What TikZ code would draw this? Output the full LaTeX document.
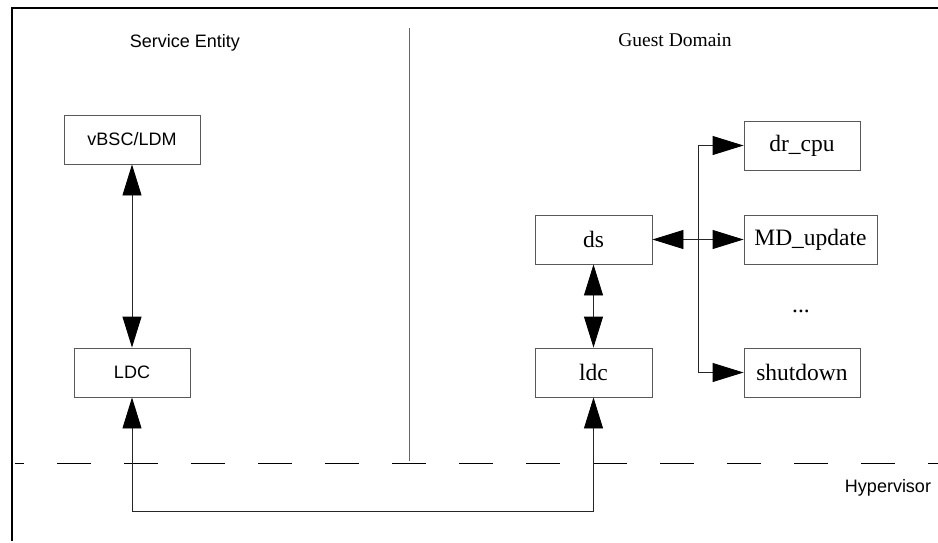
\documentclass[tikz,border=0pt]{standalone}
\usepackage{fontspec}
\setmainfont{Liberation Serif}
\setsansfont{Liberation Sans}
\usetikzlibrary{arrows.meta}
\begin{document}
\begin{tikzpicture}[x=1pt,y=-1pt,
  box/.style={draw=black!65,line width=0.9pt,inner sep=0pt,minimum height=49pt,font=\fontsize{23.5}{26}\selectfont},
  sbox/.style={box,font=\sffamily\fontsize{18}{20}\selectfont},
  conn/.style={line width=0.9pt,draw=black!85},
  tip/.tip={Triangle[length=31pt,width=19pt,color=black]},
  lbl/.style={inner sep=0pt,font=\sffamily\fontsize{18}{20}\selectfont}]
\useasboundingbox (0,0) rectangle (938,542);
% frame
\draw[line width=1.2pt] (12,541) -- (12,8) -- (938,8);
\draw[black!60,line width=1pt] (409,28) -- (409,461);
\draw[line width=1pt,dash pattern=on 33.5pt off 33.5pt,dash phase=25pt] (15,463) -- (938,463);
% labels
\node[lbl] (se) at (185,43) {Service Entity};
\node[inner sep=0pt,font=\fontsize{19.5}{22}\selectfont] (gd) at (675,40) {Guest Domain};
\node[lbl] (hv) at (888,488) {Hypervisor};
% boxes
\node[sbox,minimum width=136pt] (vbsc) at (132,139.5) {vBSC/LDM};
\node[sbox,minimum width=116pt] (LDC) at (132,372.5) {LDC};
\node[box,minimum width=117pt] (ds) at (593.5,239.5) {ds};
\node[box,minimum width=117pt] (ldc) at (593.5,372.5) {ldc};
\node[box,minimum width=116pt] (dr) at (802,145.5) {dr\_cpu};
\node[box,minimum width=133pt] (md) at (810.5,239.5) {MD\_update};
\node[box,minimum width=116pt] (sd) at (802,372.5) {shutdown};
\node[inner sep=0pt,anchor=base,font=\fontsize{23.5}{26}\selectfont] (dots) at (801,312) {...};
% connectors
\draw[conn,{tip}-{tip}] (vbsc) -- (LDC);
\draw[conn,{tip}-{tip}] (ds) -- (ldc);
\coordinate (bl) at (132,511);
\coordinate (br) at (593.5,511);
\draw[conn,{tip}-{tip}] (LDC.south) -- (bl) -- (br) -- (ldc.south);
\draw[conn,{tip}-{tip}] (ds.east) -- (md.west);
\coordinate (jt) at (698,145.5);
\coordinate (jb) at (698,372.5);
\draw[conn] (jt) -- (jb);
\draw[conn,-{tip}] (jt) -- (dr.west);
\draw[conn,-{tip}] (jb) -- (sd.west);
\end{tikzpicture}
\end{document}
